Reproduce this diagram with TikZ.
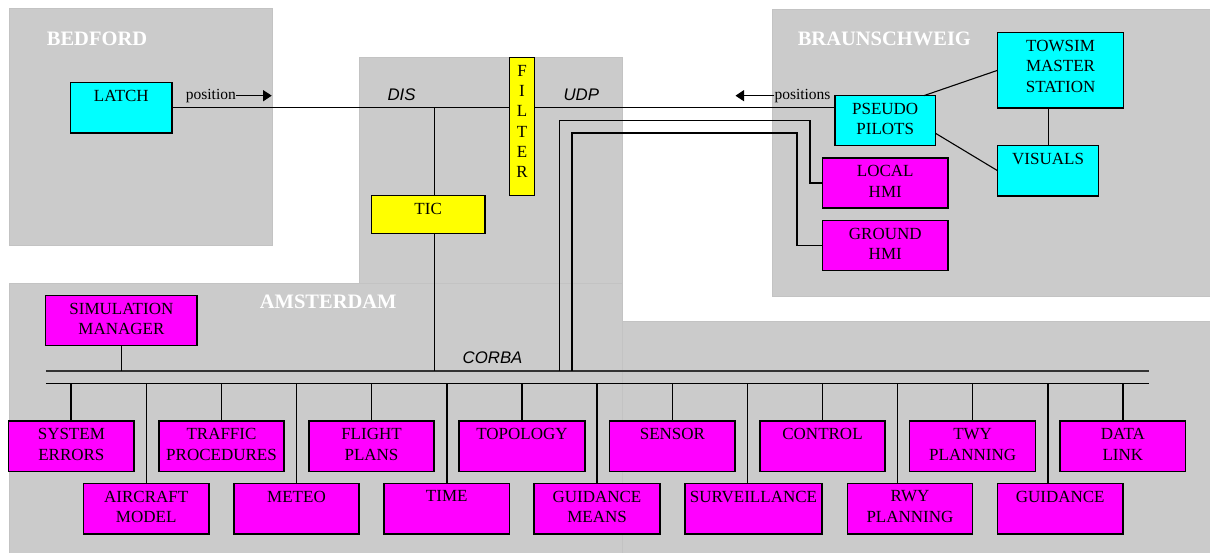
\documentclass[tikz,border=0pt]{standalone}
\usepackage{fontspec}
\setmainfont{Liberation Serif}
\newfontfamily\arialfont{Liberation Sans}
\usetikzlibrary{arrows.meta,calc}
\definecolor{regiongray}{HTML}{CBCBCB}
\definecolor{regionedge}{HTML}{C3C3C3}
\definecolor{mag}{HTML}{FF00FF}
\definecolor{cyn}{HTML}{00FFFF}
\definecolor{yel}{HTML}{FFFF00}
\tikzset{
  region/.style={fill=regiongray, draw=regionedge, line width=0.8pt},
  boxshape/.style={draw=black, line width=1.3pt, inner sep=0pt, outer sep=0pt},
  boxtext/.style={inner sep=0pt, anchor=north, align=center, font=\fontsize{17}{20.5}\selectfont},
  regionlabel/.style={text=white, font=\fontsize{20.5}{24}\selectfont\bfseries, inner sep=0pt, anchor=base west},
  protolabel/.style={font=\arialfont\itshape\fontsize{16.8}{20}\selectfont, inner sep=0pt, anchor=base west},
  msglabel/.style={font=\fontsize{15.5}{18}\selectfont, inner sep=0pt, anchor=base west},
  wire/.style={draw=black, line width=1.1pt},
  busline/.style={draw=black!80, line width=1.8pt},
  arrowwire/.style={wire, -{Triangle[length=8.5pt,width=11pt]}},
}
\newcommand{\rbox}[7]{%
  \node[boxshape, fill=#2, minimum width={(#5-#3)*1pt}, minimum height={(#6-#4)*1pt}] (#1) at ({(#3+#5)/2},{(#4+#6)/2}) {};
  \node[boxtext] (#1-t) at ([yshift=-7.3pt]#1.north) {#7};
}
\newcommand{\modul}[7]{%
  \rbox{#1}{mag}{#2}{#3}{#4}{#5}{#7}
  \coordinate (#1-d) at (#6,383.5);
  \draw[wire] (#1-d) -- (#1-d |- #1.north);
}
\begin{document}
\begin{tikzpicture}[x=1pt,y=-1pt]
\fill[white] (0,0) rectangle (1210,553);
\useasboundingbox (0,0) rectangle (1210,553);
% regions
\path[region] (9,8) rectangle (272,245);
\path[region] (772,9) rectangle (1210,296);
\path[region] (359,57.3) rectangle (622.5,283);
\path[region] (622.5,321) rectangle (1211,554);
\path[region] (9,283) rectangle (622.5,554);
% region labels
\node[regionlabel] (bedfordLbl) at (46.7,45.7) {BEDFORD};
\node[regionlabel] (braunLbl) at (797.6,46) {BRAUNSCHWEIG};
\node[regionlabel] (amsLbl) at (259.7,308.3) {AMSTERDAM};
% boxes
\rbox{latch}{cyn}{70.7}{82.7}{172}{133}{LATCH}
\rbox{tic}{yel}{371.3}{195.3}{485}{233.3}{TIC}
\node[boxshape, fill=yel, minimum width=25.4pt, minimum height=138.4pt] (filter) at (522,126.5) {};
\node[boxtext, font=\fontsize{17}{20.2}\selectfont] (filter-t) at ([yshift=-7.8pt]filter.north) {F\\I\\L\\T\\E\\R};
\rbox{towsim}{cyn}{997.5}{32.7}{1123.6}{108}{TOWSIM\\MASTER\\STATION}
\rbox{pseudo}{cyn}{835}{95.7}{935.4}{145.7}{PSEUDO\\PILOTS}
\rbox{visuals}{cyn}{997.5}{145.3}{1098.7}{196}{VISUALS}
\rbox{local}{mag}{822.5}{158}{948}{208}{LOCAL\\HMI}
\rbox{ground}{mag}{822.5}{220.7}{948}{270.7}{GROUND\\HMI}
\rbox{simman}{mag}{45.8}{295.7}{197}{345.7}{SIMULATION\\MANAGER}
% buses
\coordinate (busUL) at (45.8,371);
\coordinate (busUR) at (1148.5,371);
\coordinate (busLL) at (45.8,383.5);
\coordinate (busLR) at (1148.5,383.5);
\draw[busline] (busUL) -- (busUR);
\draw[wire] (busLL) -- (busLR);
% modules
\modul{syserr}{8.7}{421}{134}{471.3}{71}{SYSTEM\\ERRORS}
\modul{aircraft}{83.4}{483.3}{209}{534}{146.6}{AIRCRAFT\\MODEL}
\modul{traffic}{159}{421}{284}{471.3}{221.7}{TRAFFIC\\PROCEDURES}
\modul{meteo}{234}{483.3}{359}{534}{296.8}{METEO}
\modul{flight}{309}{421}{434}{471.3}{371.5}{FLIGHT\\PLANS}
\modul{time}{384}{483.3}{509.5}{534}{447}{TIME}
\modul{topology}{459}{421}{585}{471.3}{522}{TOPOLOGY}
\modul{guidmeans}{534}{483.3}{660}{534}{597}{GUIDANCE\\MEANS}
\modul{sensor}{609.8}{421}{735}{471.3}{672.3}{SENSOR}
\modul{surv}{685}{483.3}{822}{534}{747.3}{SURVEILLANCE}
\modul{control}{760}{421}{885}{471.3}{822.5}{CONTROL}
\modul{rwy}{847.3}{483.3}{972.6}{534}{897.5}{RWY\\PLANNING}
\modul{twy}{909.8}{421}{1035.5}{471.3}{972.6}{TWY\\PLANNING}
\modul{guid}{997.5}{483.3}{1123}{534}{1048}{GUIDANCE}
\modul{datalink}{1060}{421}{1185.6}{471.3}{1123}{DATA\\LINK}
% DIS / UDP line
\draw[wire] (latch.east) -- (filter.west |- latch.east);
\draw[wire] (filter.east |- latch.east) -- (pseudo.west |- latch.east);
% TIC links
\coordinate (ticA) at ([xshift=6.3pt]tic.north);
\coordinate (ticB) at ([xshift=6.3pt]tic.south);
\draw[wire] (ticA) -- (ticA |- latch.east);
\draw[wire] (ticB) -- (ticB |- busUL);
% simulation manager
\draw[wire] (simman.south) -- (simman.south |- busUL);
% HMI links
\coordinate (hmiA) at (559.3,371);
\coordinate (hmiAtop) at (559.3,120.7);
\coordinate (hmiB) at (572,371);
\coordinate (hmiBtop) at (572,133);
\draw[wire] (local.west) -- ++(-12.5,0) |- (hmiAtop) -- (hmiA);
\draw[wire] (ground.west) -- ++(-25.5,0) |- (hmiBtop) -- (hmiB);
% Braunschweig links
\draw[wire] (pseudo.33) -- (towsim.west);
\draw[wire] (pseudo.-14.5) -- (visuals.west);
\draw[wire] (visuals.north) -- (visuals.north |- towsim.south);
% message arrows
\node[msglabel] (posL) at (185.7,100) {position};
\coordinate (posTip) at (271.7,95.7);
\draw[arrowwire] (posL.east |- posTip) -- (posTip);
\node[msglabel] (possL) at (774.3,100) {positions};
\coordinate (possTip) at (735.5,95.7);
\draw[arrowwire] (possL.west |- possTip) -- (possTip);
% protocol labels
\node[protolabel] (disL) at (387.3,100.7) {DIS};
\node[protolabel] (udpL) at (563.3,100.7) {UDP};
\node[protolabel] (corbaL) at (462.5,363) {CORBA};
\end{tikzpicture}
\end{document}
